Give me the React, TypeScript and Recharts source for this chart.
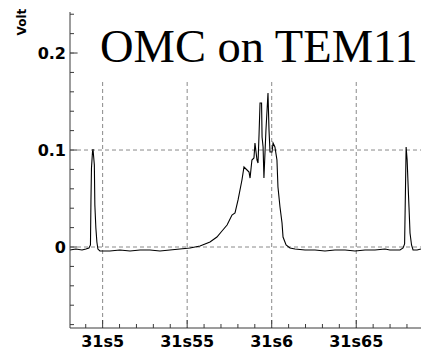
import React from "react";
import { LineChart, Line, XAxis, YAxis, CartesianGrid } from "recharts";

// Time axis (seconds) and photodiode signal (volts)
const times: number[] = [
  31.4807, 31.4842, 31.4878, 31.4901, 31.4919, 31.4928, 31.4931, 31.4934, 31.494, 31.4943,
  31.4947, 31.4951, 31.4954, 31.496, 31.4966, 31.4972, 31.4984, 31.5043, 31.5102, 31.5162,
  31.5221, 31.528, 31.5339, 31.5398, 31.5457, 31.5517, 31.5576, 31.5635, 31.5676, 31.5706,
  31.5736, 31.5765, 31.5783, 31.5801, 31.5824, 31.5836, 31.5854, 31.5866, 31.5872, 31.5883,
  31.5895, 31.5901, 31.5913, 31.5919, 31.5925, 31.5931, 31.594, 31.5943, 31.5949, 31.5954,
  31.5966, 31.5978, 31.5984, 31.599, 31.6002, 31.6008, 31.6019, 31.6031, 31.6037, 31.6049,
  31.6061, 31.6067, 31.6085, 31.6108, 31.6138, 31.6197, 31.6256, 31.6315, 31.6374, 31.6434,
  31.6493, 31.6552, 31.6611, 31.667, 31.6699, 31.6759, 31.6777, 31.6786, 31.6792, 31.6795,
  31.6801, 31.6809, 31.6812, 31.6818, 31.6827, 31.6836, 31.686, 31.6883,
];

const volts: number[] = [
  -0.0031, -0.0021, -0.0031, -0.0021, -0.001, 0.0021, 0.0485, 0.0814, 0.0979, 0.101,
  0.0928, 0.0845, 0.0433, 0.0196, 0.0052, -0.0021, -0.0041, -0.0041, -0.0031, -0.0041,
  -0.0031, -0.0031, -0.0041, -0.0031, -0.0021, -0.001, 0.001, 0.0052, 0.0103, 0.0165,
  0.0227, 0.033, 0.0351, 0.0485, 0.0691, 0.0825, 0.0794, 0.0773, 0.0711, 0.0897,
  0.0918, 0.1072, 0.0897, 0.0866, 0.1155, 0.1485, 0.1485, 0.1134, 0.1031, 0.0711,
  0.1206, 0.1588, 0.1206, 0.0979, 0.0979, 0.1072, 0.1031, 0.0897, 0.0619, 0.0412,
  0.0247, 0.0103, 0.0021, -0.001, -0.0021, -0.0031, -0.0031, -0.0041, -0.0031, -0.0031,
  -0.0041, -0.0031, -0.0031, -0.0021, -0.0031, -0.0031, -0.001, 0.0031, 0.0691, 0.1031,
  0.0897, 0.0536, 0.0412, 0.0144, 0.0021, -0.0031, -0.0031, -0.0021,
];

const xTicks: number[] = [
  31.49, 31.5, 31.51, 31.52, 31.53, 31.54, 31.55, 31.56, 31.57, 31.58,
  31.59, 31.6, 31.61, 31.62, 31.63, 31.64, 31.65, 31.66, 31.67, 31.68,
];
const xMajor: number[] = [31.5, 31.55, 31.6, 31.65];
const xLabels: string[] = ["31s5", "31s55", "31s6", "31s65"];

const yTicks: number[] = [
  -0.08, -0.06, -0.04, -0.02, 0, 0.02, 0.04, 0.06, 0.08, 0.1, 0.12, 0.14, 0.16, 0.18, 0.2, 0.22, 0.24,
];
const yMajor: number[] = [0, 0.1, 0.2];
const yLabels: string[] = ["0", "0.1", "0.2"];

const xDomain: [number, number] = [31.4807, 31.6883];
const yDomain: [number, number] = [-0.0835, 0.2423];

const title = "OMC on TEM11";
const yTitle = "Volt";

const trace = times.map((t, i) => ({ t, v: volts[i] }));

const tickFont = "'DejaVu Sans', sans-serif";
const axisColor = "#3a3a3a";

const majorIndex = (list: number[], value: number) =>
  list.findIndex((m) => Math.abs(m - value) < 1e-6);

const XTick = (props: any) => {
  const { x, y, payload } = props;
  const idx = majorIndex(xMajor, payload.value);
  const len = idx >= 0 ? 8 : 4;
  return (
    <g>
      <line x1={x} y1={y} x2={x} y2={y - len} stroke={axisColor} strokeWidth={1} />
      {idx >= 0 && (
        <text
          x={x}
          y={y + 19}
          textAnchor="middle"
          fontFamily={tickFont}
          fontWeight="bold"
          fontSize={16}
          fill="#000"
        >
          {xLabels[idx]}
        </text>
      )}
    </g>
  );
};

const YTick = (props: any) => {
  const { x, y, payload } = props;
  const idx = majorIndex(yMajor, payload.value);
  const len = idx >= 0 ? 7 : 4;
  return (
    <g>
      <line x1={x} y1={y} x2={x + len} y2={y} stroke={axisColor} strokeWidth={1} />
      {idx >= 0 && (
        <text
          x={x - 4}
          y={y + 6}
          textAnchor="end"
          fontFamily={tickFont}
          fontWeight="bold"
          fontSize={16}
          fill="#000"
        >
          {yLabels[idx]}
        </text>
      )}
    </g>
  );
};

export default function App() {
  return (
    <div
      style={{
        position: "absolute",
        left: 0,
        top: 0,
        width: 421,
        height: 353,
        overflow: "hidden",
        background: "#fff",
      }}
    >
      <LineChart
        width={421}
        height={353}
        data={trace}
        margin={{ top: 12, right: 0, bottom: 0, left: 0 }}
      >
        <CartesianGrid
          horizontalValues={yMajor}
          verticalValues={xMajor}
          stroke="#8a8a8a"
          strokeDasharray="4 3"
        />
        <XAxis
          dataKey="t"
          type="number"
          domain={xDomain}
          ticks={xTicks}
          interval={0}
          allowDataOverflow
          height={25}
          tickSize={0}
          tickMargin={0}
          tickLine={false}
          tick={<XTick />}
          axisLine={{ stroke: axisColor }}
        />
        <YAxis
          type="number"
          domain={yDomain}
          ticks={yTicks}
          interval={0}
          allowDataOverflow
          width={70}
          tickSize={0}
          tickMargin={0}
          tickLine={false}
          tick={<YTick />}
          axisLine={{ stroke: axisColor }}
        />
        <Line
          type="linear"
          dataKey="v"
          stroke="#000"
          strokeWidth={1.1}
          dot={false}
          isAnimationActive={false}
        />
      </LineChart>
      <svg
        width={421}
        height={353}
        style={{ position: "absolute", left: 0, top: 0, pointerEvents: "none" }}
      >
        <rect x={78} y={0} width={343} height={81} fill="#fff" />
        <text
          x={100}
          y={62}
          fontFamily="'Liberation Serif', 'Times New Roman', serif"
          fontSize={46.5}
          fill="#000"
        >
          {title}
        </text>
        <text
          x={26}
          y={22}
          transform="rotate(-90 26 22)"
          textAnchor="middle"
          fontFamily={tickFont}
          fontWeight="bold"
          fontSize={12}
          fill="#000"
        >
          {yTitle}
        </text>
      </svg>
    </div>
  );
}
